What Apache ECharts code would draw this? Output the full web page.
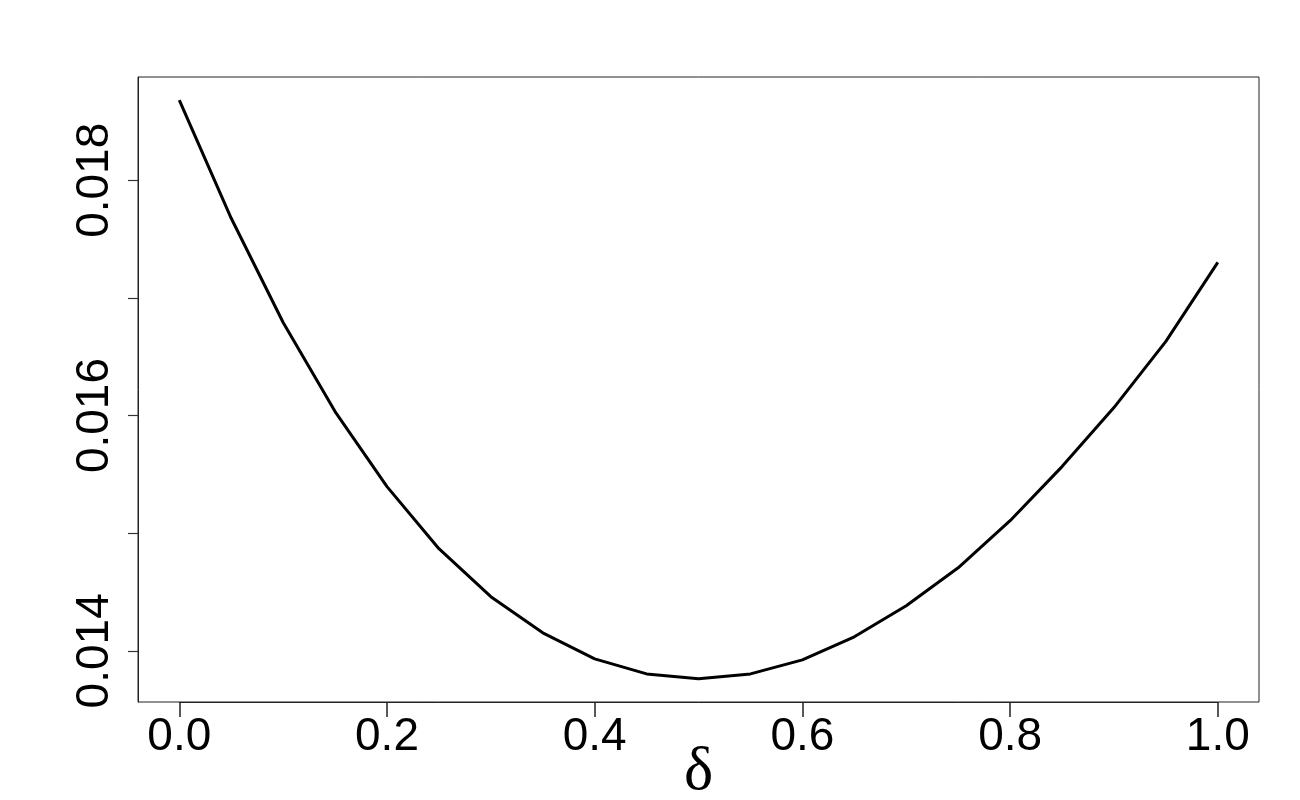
<!DOCTYPE html>
<html>
<head>
<meta charset="utf-8">
<script src="https://cdn.jsdelivr.net/npm/echarts@6/dist/echarts.min.js"></script>
<style>
html,body{margin:0;padding:0;background:#fff;}
#chart{width:1300px;height:800px;}
</style>
</head>
<body>
<div id="chart"></div>
<script>
// delta values (x)
const deltas = [0.00,0.05,0.10,0.15,0.20,0.25,0.30,0.35,0.40,0.45,0.50,0.55,0.60,0.65,0.70,0.75,0.80,0.85,0.90,0.95,1.00];
// y values
const values = [0.018681,0.017677,0.016791,0.016034,0.015396,0.014868,0.014460,0.014153,0.013932,0.013804,0.013762,0.013804,0.013923,0.014119,0.014383,0.014706,0.015106,0.015566,0.016068,0.016630,0.017302];
// tick positions / labels
const xTicks = [0, 0.2, 0.4, 0.6, 0.8, 1.0];
const yTicks = [0.014, 0.015, 0.016, 0.017, 0.018];
const yLabels = [0.014, 0.016, 0.018];
const xName = 'δ';

const yMin = 0.013565, yMax = 0.018878;
const chart = echarts.init(document.getElementById('chart'), null, {renderer:'canvas'});
const data = deltas.map((d,i)=>[d, values[i]]);
const labelFont = 'Liberation Sans, Arial, sans-serif';
chart.setOption({
  animation:false,
  backgroundColor:'#ffffff',
  grid:[
    {left:138, right:41, top:77, bottom:98, containLabel:false, outerBoundsMode:'none',
     show:true, borderColor:'#222', borderWidth:1, backgroundColor:'transparent'},
    {left:179.3, right:82.2, top:77, bottom:98, containLabel:false, outerBoundsMode:'none', show:false}
  ],
  xAxis:[
    {gridIndex:0, type:'value', min:-0.04, max:1.04, show:false},
    {gridIndex:1, type:'value', min:xTicks[0], max:xTicks[xTicks.length-1], interval:0.2, position:'bottom',
     axisLine:{show:true, onZero:false, lineStyle:{color:'#222', width:1}},
     splitLine:{show:false},
     axisTick:{show:true, length:15, inside:false, lineStyle:{color:'#222', width:1.5}},
     axisLabel:{formatter:v=>v.toFixed(1), color:'#000', fontSize:46, fontFamily:labelFont, margin:12, showMinLabel:true, showMaxLabel:true},
     name:xName, nameLocation:'middle', nameGap:40, nameMoveOverlap:false,
     nameTextStyle:{fontFamily:'Liberation Serif, DejaVu Serif, serif', fontSize:62, color:'#000'}
    }
  ],
  yAxis:[
    {gridIndex:0, type:'value', min:yMin, max:yMax, position:'left',
     axisLine:{show:true, onZero:false, lineStyle:{color:'#222', width:1}},
     splitLine:{show:false},
     axisTick:{show:true, length:10, inside:false, customValues:yTicks, lineStyle:{color:'#333', width:1.2}},
     axisLabel:{customValues:yLabels, formatter:v=>v.toFixed(3), rotate:90, color:'#000', fontSize:46, fontFamily:labelFont, margin:20}
    },
    {gridIndex:1, type:'value', min:yMin, max:yMax, show:false}
  ],
  series:[{
    type:'line', xAxisIndex:1, yAxisIndex:1, data:data, showSymbol:false, symbol:'none', clip:false,
    lineStyle:{color:'#000', width:3}, smooth:false
  }]
});
</script>
</body>
</html>
